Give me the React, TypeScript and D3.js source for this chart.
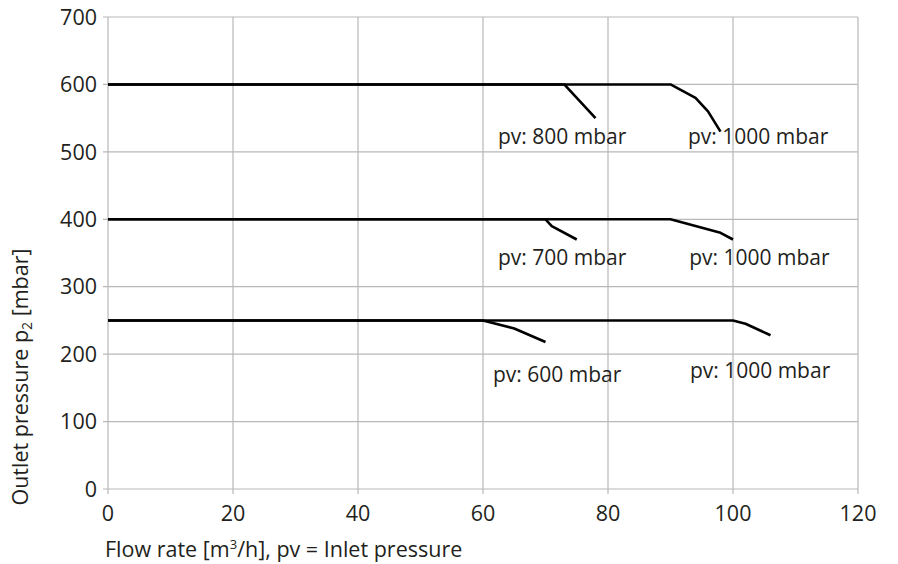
import * as d3 from 'd3';

const W = 898
const H = 564

// axis ticks
const xTicks = [0, 20, 40, 60, 80, 100, 120]
const yTicks = [0, 100, 200, 300, 400, 500, 600, 700]

// curves [flow m3/h, outlet mbar]
const curve600_pv1000 = [[0, 600], [90, 600], [94, 580], [96, 560], [98, 530]]
const curve600_pv800 = [[0, 600], [73, 600], [78, 550]]
const curve400_pv1000 = [[0, 400], [90, 400], [98, 380], [100, 370]]
const curve400_pv700 = [[0, 400], [70, 400], [71, 390], [75, 370]]
const curve250_pv1000 = [[0, 250], [100, 250], [102, 245], [106, 228]]
const curve250_pv600 = [[0, 250], [60, 250], [65, 238], [70, 218]]

const curves = [curve600_pv1000, curve600_pv800, curve400_pv1000, curve400_pv700, curve250_pv1000, curve250_pv600]

// annotation labels, placed in data units
const labelText = ['pv: 800 mbar', 'pv: 1000 mbar', 'pv: 700 mbar', 'pv: 1000 mbar', 'pv: 600 mbar', 'pv: 1000 mbar']
const labelX = [62.4, 92.8, 62.4, 93, 61.6, 93.1]
const labelY = [512, 511, 332, 332, 159, 164]

const font = "'Open Sans', sans-serif"
const textColor = '#231f20'
const gridColor = '#b8b8b8'

export default function App() {
	const xScale = d3.scaleLinear().domain([0, 120]).range([108, 858])
	const yScale = d3.scaleLinear().domain([0, 700]).range([489, 17])

	const line = d3.line<number[]>()
		.x(d => xScale(d[0]))
		.y(d => yScale(d[1]))

	return (
		<svg width={W} height={H} style={{ position: 'absolute', left: 0, top: 0, background: '#fff' }}
			fontFamily={font}>
			{/* grid */}
			{xTicks.map(t => (
				<line key={'gx' + t} x1={xScale(t)} x2={xScale(t)} y1={yScale(0)} y2={yScale(700)}
					stroke={gridColor} strokeWidth={1.2} />
			))}
			{yTicks.map(t => (
				<line key={'gy' + t} x1={xScale(0) - 5} x2={xScale(120)} y1={yScale(t)} y2={yScale(t)}
					stroke={gridColor} strokeWidth={1.2} />
			))}
			{xTicks.map(t => (
				<line key={'tx' + t} x1={xScale(t)} x2={xScale(t)} y1={yScale(0)} y2={yScale(0) + 5}
					stroke={gridColor} strokeWidth={1.2} />
			))}

			{/* tick labels */}
			{yTicks.map(t => (
				<text key={'ly' + t} x={xScale(0) - 11} y={yScale(t)} dy="0.36em" textAnchor="end"
					fontSize={21.5} fill={textColor}>{t}</text>
			))}
			{xTicks.map(t => (
				<text key={'lx' + t} x={xScale(t)} y={521} textAnchor="middle"
					fontSize={21.5} fill={textColor}>{t}</text>
			))}

			{/* curves */}
			{curves.map((c, i) => (
				<path key={'c' + i} d={line(c) || ''} fill="none" stroke="#000" strokeWidth={2.6}
					strokeLinejoin="round" />
			))}

			{/* annotations */}
			{labelText.map((s, i) => (
				<text key={'a' + i} x={xScale(labelX[i])} y={yScale(labelY[i])} fontSize={21}
					fill={textColor}>{s}</text>
			))}

			{/* axis titles */}
			<text x={105} y={557} fontSize={21.5} fill={textColor}>
				Flow rate [m<tspan fontSize={13} dy={-8}>3</tspan><tspan dy={8}>/h], pv = Inlet pressure</tspan>
			</text>
			<text transform={`translate(28, 377) rotate(-90)`} textAnchor="middle" fontSize={21.5} fill={textColor}>
				Outlet pressure p<tspan fontSize={14} dy={4}>2</tspan><tspan dy={-4}> [mbar]</tspan>
			</text>
		</svg>
	)
}
